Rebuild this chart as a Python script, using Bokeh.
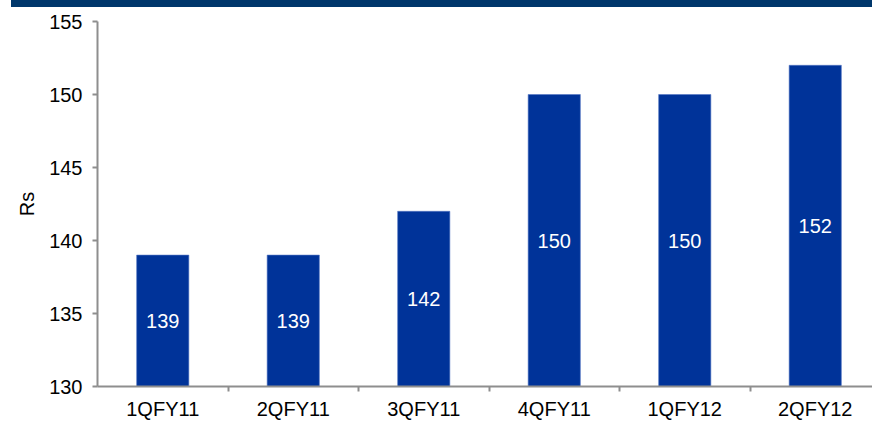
from bokeh.plotting import figure
from bokeh.models import ColumnDataSource, FixedTicker, Div, Range1d
from bokeh.layouts import column
from bokeh.core.properties import value
from bokeh.embed import file_html
from bokeh.resources import INLINE

categories = ["1QFY11", "2QFY11", "3QFY11", "4QFY11", "1QFY12", "2QFY12"]
values = [139, 139, 142, 150, 150, 152]
y_ticks = [130, 135, 140, 145, 150, 155]

base = 130
xs = list(range(len(categories)))
src = ColumnDataSource(dict(
    x=xs,
    top=values,
    mid=[(base + v) / 2 for v in values],
    lab=[str(v) for v in values],
))

FONT = "Liberation Sans"

p = figure(frame_width=775, frame_height=365, output_backend="svg", toolbar_location=None,
           x_range=Range1d(-0.5, -0.5 + 775 / 130.5), y_range=Range1d(130, 155),
           min_border_left=97, min_border_right=0, min_border_top=14, min_border_bottom=36)
p.outline_line_color = None
p.grid.visible = False

p.vbar(x="x", top="top", bottom=base, width=0.4, source=src,
       fill_color="#003399", line_color="#5577c4", line_width=0.6)
p.text(x="x", y="mid", text="lab", source=src, text_color="white",
       text_font=value(FONT), text_font_size="20px",
       text_align="center", text_baseline="middle")

# y axis
ya = p.yaxis[0]
ya.ticker = FixedTicker(ticks=y_ticks)
ya.axis_line_color = "#8e8e8e"
ya.axis_line_width = 2
ya.major_tick_line_color = "#8e8e8e"
ya.major_tick_line_width = 2
ya.major_tick_out = 5
ya.major_tick_in = 0
ya.minor_tick_line_color = None
ya.major_label_text_font = FONT
ya.major_label_text_font_size = "20px"
ya.major_label_text_color = "black"
ya.major_label_standoff = 10
ya.axis_label = "Rs"
ya.axis_label_text_font = FONT
ya.axis_label_text_font_size = "20px"
ya.axis_label_text_font_style = "normal"
ya.axis_label_text_color = "black"
ya.axis_label_standoff = 8

# x axis
xa = p.xaxis[0]
xa.ticker = FixedTicker(ticks=xs, minor_ticks=[i + 0.5 for i in xs])
xa.major_label_overrides = {i: c for i, c in enumerate(categories)}
xa.axis_line_color = "#8e8e8e"
xa.axis_line_width = 2
xa.major_tick_line_color = None
xa.major_tick_out = 0
xa.major_tick_in = 0
xa.minor_tick_line_color = "#8e8e8e"
xa.minor_tick_line_width = 2
xa.minor_tick_out = 5
xa.minor_tick_in = 0
xa.major_label_text_font = FONT
xa.major_label_text_font_size = "20px"
xa.major_label_text_color = "black"
xa.major_label_standoff = 6

band = Div(text="", width=861, height=7, margin=(0, 0, 0, 11),
           styles={"background-color": "#00376b"})

layout = column(band, p, spacing=0)

open("out.html", "w").write(file_html(layout, INLINE))
